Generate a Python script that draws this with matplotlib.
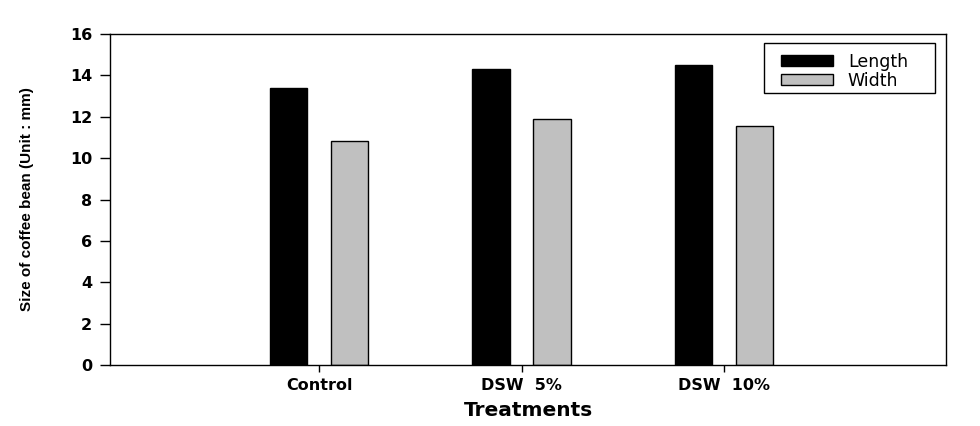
import numpy as np
import matplotlib.pyplot as plt
from matplotlib.patches import Rectangle

plt.rcParams['font.family'] = ['DejaVu Sans']

treatments = ["Control", "DSW  5%", "DSW  10%"]
length_mm = [13.38, 14.30, 14.50]
width_mm = [10.82, 11.88, 11.55]

fig = plt.figure(figsize=(9.8, 4.26), dpi=100)
ax = fig.add_axes([110 / 980, 1 - 365 / 426, 836 / 980, 331 / 426])

x = np.arange(len(treatments))
bw = 0.185
ax.bar(x - 0.152, length_mm, bw, color="black", edgecolor="black", lw=1, label="Length")
ax.bar(x + 0.150, width_mm, bw, color="#c0c0c0", edgecolor="black", lw=1, label="Width")

ax.set_xlim(-1.034, 3.096)
ax.set_ylim(0, 16)
ax.set_yticks(range(0, 17, 2))
ax.set_xticks(x)
ax.set_xticklabels(treatments, fontsize=11.5, fontweight="bold")
for lab in ax.get_yticklabels():
    lab.set_fontsize(11.5)
    lab.set_fontweight("bold")
ax.tick_params(axis="y", direction="out", length=7, width=1, pad=6)
ax.tick_params(axis="x", direction="out", length=5, width=1, pad=4)
for s in ax.spines.values():
    s.set_linewidth(1)

ax.set_xlabel("Treatments", fontsize=14.5, fontweight="bold", labelpad=6)
ax.set_ylabel("Size of coffee bean (Unit : mm)", fontsize=11, fontweight="bold",
              family="Liberation Sans", labelpad=26)

# legend contents without frame, box drawn separately (wider side padding)
leg = ax.legend(loc="upper left", bbox_to_anchor=(0.8026, 0.943), fontsize=12.5,
                frameon=False, handlelength=3.0, handleheight=0.6, handletextpad=0.85,
                borderpad=0, labelspacing=0.05, borderaxespad=0)
ax.add_patch(Rectangle((0.7823, 0.8218), 0.2045, 0.151, transform=ax.transAxes,
                       fill=False, edgecolor="black", lw=1, zorder=5))

fig.savefig("out.png", dpi=100)
